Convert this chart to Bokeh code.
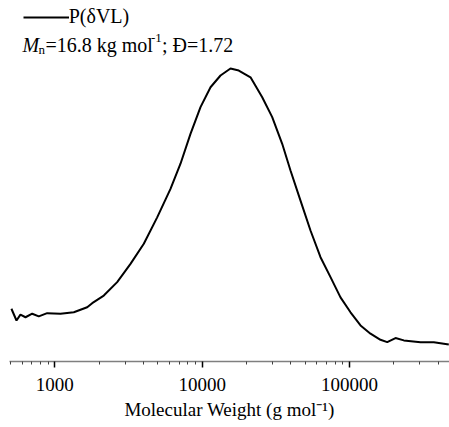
from bokeh.plotting import figure
from bokeh.models import Range1d, FixedTicker, Label, Legend, LegendItem
from bokeh.embed import file_html
from bokeh.resources import INLINE

# ---- data ----
mw = [508, 550, 585, 633, 703, 779, 888, 1093, 1346, 1659,
      1794, 2150, 2650, 3263, 4017, 4950, 6095, 7126, 8329, 9739,
      11390, 13310, 15560, 17710, 21270, 25540, 29850, 34890, 39720, 46440,
      54280, 63460, 74200, 86730, 101400, 118600, 138600, 162000, 179900, 204800,
      233200, 302700, 372600, 470900]
signal = [0.180, 0.140, 0.160, 0.151, 0.163, 0.154, 0.165, 0.163, 0.168, 0.185,
          0.199, 0.225, 0.271, 0.333, 0.402, 0.492, 0.589, 0.675, 0.777, 0.868,
          0.936, 0.976, 1.000, 0.993, 0.970, 0.902, 0.834, 0.743, 0.652, 0.549,
          0.447, 0.356, 0.288, 0.219, 0.168, 0.123, 0.095, 0.074, 0.066, 0.080,
          0.072, 0.066, 0.066, 0.058]
major_ticks = [1000, 10000, 100000]
major_labels = ["1000", "10000", "100000"]
minor_ticks = [m * d for d in (100, 1000, 10000, 100000) for m in range(2, 10)]
series_name = "P(δVL)"
x_title = "Molecular Weight (g mol\u207b\u00b9)"

# ---- layout ----
W, H = 449, 427
LEFT, BOTTOM = 9, 66
FH = H - BOTTOM
FONT = "Liberation Serif"
FS = "19px"
FS2 = "20px"
SMALL = "13px"

p = figure(width=W, height=H, x_axis_type="log",
           x_range=Range1d(493, 476000), y_range=Range1d(0, 1.232),
           output_backend="svg", toolbar_location=None, y_axis_location=None,
           min_border_left=LEFT, min_border_right=0, min_border_top=0,
           min_border_bottom=BOTTOM, outline_line_color=None,
           background_fill_color="white", border_fill_color="white")
p.xgrid.grid_line_color = None
p.ygrid.grid_line_color = None

r = p.line(mw, signal, line_color="black", line_width=2)

ax = p.xaxis[0]
ax.ticker = FixedTicker(ticks=major_ticks, minor_ticks=minor_ticks)
ax.major_label_overrides = {t: s for t, s in zip(major_ticks, major_labels)}
ax.axis_line_color = "#7f7f7f"
ax.axis_line_width = 1.5
ax.major_tick_line_color = "black"
ax.major_tick_line_width = 1.5
ax.major_tick_out = 6
ax.major_tick_in = 0
ax.minor_tick_line_color = "#404040"
ax.minor_tick_line_width = 1
ax.minor_tick_out = 3
ax.minor_tick_in = 0
ax.major_label_text_font = FONT
ax.major_label_text_font_size = FS
ax.major_label_text_color = "black"
ax.major_label_standoff = 10
ax.axis_label = x_title
ax.axis_label_text_font = FONT
ax.axis_label_text_font_size = FS
ax.axis_label_text_font_style = "normal"
ax.axis_label_text_color = "black"
ax.axis_label_standoff = 5


def lab(text, cx, base, size=FS2, italic=False):
    p.add_layout(Label(x=cx - LEFT, y=FH - base, x_units="screen", y_units="screen",
                       text=text, text_font=FONT, text_font_size=size,
                       text_font_style="italic" if italic else "normal",
                       text_baseline="alphabetic", text_align="left",
                       text_color="black"))


# legend (series line + name)
legend = Legend(items=[LegendItem(label=series_name, renderers=[r])],
                location=(13.7, FH - 28.5), orientation="vertical",
                border_line_color=None, background_fill_alpha=0,
                padding=0, margin=0, spacing=0, glyph_width=46,
                glyph_height=24, label_height=24, label_standoff=0,
                label_text_font=FONT, label_text_font_size=FS2,
                label_text_color="black")
p.add_layout(legend)

# second legend line: Mn and dispersity
lab("M", 22, 44.5, italic=True)
lab("n", 38, 48.5, size=SMALL)
lab("=16.8 kg mol", 45, 44.5)
lab("-1", 150.5, 37, size=SMALL)
lab("; Đ=1.72", 161.5, 44.5)

open("out.html", "w").write(file_html(p, INLINE))
